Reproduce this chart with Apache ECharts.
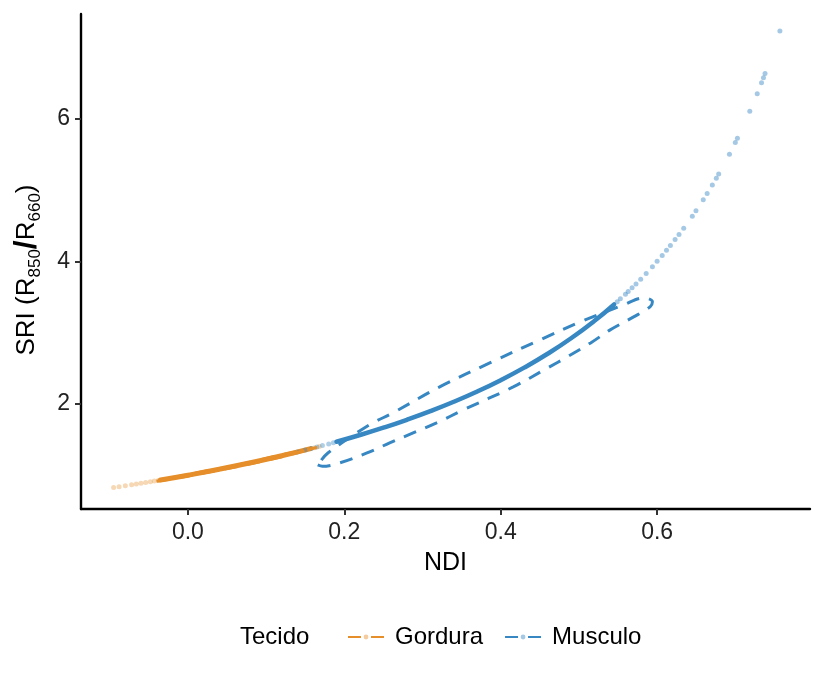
<!DOCTYPE html>
<html>
<head>
<meta charset="utf-8">
<script src="https://cdn.jsdelivr.net/npm/echarts@6/dist/echarts.min.js"></script>
<style>
html,body{margin:0;padding:0;background:#fff;}
#chart{width:826px;height:685px;}
</style>
</head>
<body>
<div id="chart"></div>
<script>
// ---- data ----
const xTicks = [0.0, 0.2, 0.4, 0.6];
const yTicks = [2, 4, 6];

// Gordura: sparse light points (low NDI end)
const gordSparseNDI = [-0.095, -0.088, -0.08, -0.072, -0.066, -0.06, -0.054, -0.048, -0.043, -0.038, 0.162, 0.168];
const gordSparseSRI = [0.8265, 0.8382, 0.8519, 0.8657, 0.8762, 0.8868, 0.8975, 0.9084, 0.9175, 0.9268, 1.3866, 1.4038];
// Gordura: dense run of overlapping points
const gordDenseNDI = [-0.035, 0.0, 0.04, 0.08, 0.12, 0.157];
const gordDenseSRI = [0.9324, 1.0, 1.0833, 1.1739, 1.2727, 1.3725];
// Gordura ellipse (very thin)
const gordEllNDI = [-0.04, 0.0, 0.06, 0.12, 0.165, 0.12, 0.06, 0.0, -0.04];
const gordEllSRI = [0.915, 0.99, 1.115, 1.26, 1.39, 1.285, 1.135, 1.01, 0.915];

// Musculo: light points overlapping Gordura
const muscLowNDI = [0.14, 0.15, 0.158, 0.165, 0.172, 0.18, 0.186];
const muscLowSRI = [1.3256, 1.3529, 1.3753, 1.3952, 1.4155, 1.439, 1.457];
// Musculo: dense run of overlapping points
const muscDenseNDI = [0.19, 0.22, 0.25, 0.28, 0.31, 0.34, 0.37, 0.40, 0.43, 0.46, 0.49, 0.52, 0.545];
const muscDenseSRI = [1.4691, 1.5641, 1.6667, 1.7778, 1.8986, 2.0303, 2.1746, 2.3333, 2.5088, 2.7037, 2.9216, 3.1667, 3.3956];
// Musculo: sparse upper points
const muscHighNDI = [0.549, 0.553, 0.5595, 0.563, 0.568, 0.573, 0.579, 0.586, 0.594, 0.600, 0.6065, 0.612, 0.617, 0.623, 0.628, 0.634, 0.645, 0.6497, 0.659, 0.664, 0.6706, 0.6757, 0.6787, 0.6925, 0.700, 0.7027, 0.7185, 0.728, 0.7335, 0.736, 0.738, 0.757];
const muscHighSRI = [3.4346, 3.4743, 3.540, 3.5767, 3.6296, 3.6838, 3.7506, 3.8309, 3.9261, 4.0, 4.0826, 4.1546, 4.2219, 4.305, 4.3763, 4.4645, 4.6338, 4.7094, 4.8651, 4.9524, 5.0717, 5.1671, 5.2247, 5.5041, 5.6667, 5.7272, 6.1048, 6.3529, 6.5047, 6.5758, 6.6336, 7.2305];
// Musculo ellipse
const muscEllNDI = [0.166, 0.172, 0.194, 0.229, 0.258, 0.288, 0.318, 0.352, 0.416, 0.460, 0.485, 0.515, 0.540, 0.570, 0.591, 0.594, 0.583, 0.557, 0.502, 0.450, 0.386, 0.322, 0.262, 0.232, 0.179, 0.166];
const muscEllSRI = [1.144, 1.125, 1.172, 1.312, 1.453, 1.593, 1.733, 1.916, 2.239, 2.505, 2.660, 2.856, 3.039, 3.221, 3.361, 3.432, 3.488, 3.389, 3.151, 2.898, 2.575, 2.239, 1.874, 1.705, 1.312, 1.144];

const ORANGE = '#E58E2A';
const BLUE = '#3787C3';
const FONT = 'Liberation Sans, Arial, sans-serif';

function pairs(xs, ys) { return xs.map((x, i) => [x, ys[i]]); }

const chart = echarts.init(document.getElementById('chart'), null, {renderer: 'canvas'});

const option = {
  backgroundColor: '#ffffff',
  animation: false,
  textStyle: {fontFamily: FONT},
  grid: {left: 81, right: 16, top: 14, bottom: 176, containLabel: false},
  xAxis: {
    type: 'value',
    min: -0.1367, max: 0.7955,
    name: 'NDI',
    nameLocation: 'middle',
    nameGap: 42,
    nameTextStyle: {fontSize: 25, color: '#000', fontFamily: FONT},
    axisLine: {show: true, onZero: false, lineStyle: {color: '#000', width: 2.4}},
    axisTick: {show: true, length: 6, lineStyle: {color: '#333', width: 2}, customValues: xTicks},
    axisLabel: {fontSize: 23, color: '#222', margin: 12, fontFamily: FONT, customValues: xTicks,
      formatter: v => v.toFixed(1)},
    splitLine: {show: false}
  },
  yAxis: {
    type: 'value',
    min: 0.526, max: 7.47,
    axisLine: {show: true, onZero: false, lineStyle: {color: '#000', width: 2.4}},
    axisTick: {show: true, length: 6, lineStyle: {color: '#333', width: 2}, customValues: yTicks},
    axisLabel: {fontSize: 23, color: '#222', margin: 11, fontFamily: FONT, customValues: yTicks},
    splitLine: {show: false}
  },
  legend: {
    data: ['Gordura', 'Musculo'],
    left: 342,
    top: 620,
    orient: 'horizontal',
    itemWidth: 36,
    itemHeight: 6,
    itemGap: 21,
    textStyle: {fontSize: 24, color: '#000', fontFamily: FONT, padding: [0, 0, 0, 6]},
    itemStyle: {opacity: 0.45}
  },
  graphic: [
    {
      type: 'text',
      left: 240,
      top: 625,
      style: {text: 'Tecido', fontSize: 24, fill: '#000', fontFamily: FONT}
    },
    {
      type: 'text',
      x: 27, y: 270,
      rotation: Math.PI / 2,
      style: {
        text: '{t|SRI (R}{s|850}{k|/}{t|R}{s|660}{t|)}',
        x: 0, y: 0, align: 'center', verticalAlign: 'middle',
        fill: '#000', fontFamily: FONT,
        rich: {
          t: {fontSize: 26, lineHeight: 34, verticalAlign: 'middle', fill: '#000', fontFamily: FONT},
          s: {fontSize: 17, lineHeight: 17, verticalAlign: 'bottom', fill: '#000', fontFamily: FONT},
          k: {fontSize: 32, lineHeight: 34, verticalAlign: 'middle', fontWeight: 'bold', fill: '#000', fontFamily: FONT}
        }
      }
    }
  ],
  series: [
    {
      name: 'Gordura', type: 'line', data: pairs(gordEllNDI, gordEllSRI), smooth: 0.4,
      symbol: 'circle', symbolSize: 5, showSymbol: false, z: 5,
      lineStyle: {color: ORANGE, width: 3, type: [13, 10]}, itemStyle: {color: ORANGE}
    },
    {
      name: 'Musculo', type: 'line', data: pairs(muscEllNDI, muscEllSRI), smooth: 0.35,
      symbol: 'circle', symbolSize: 5, showSymbol: false, z: 5,
      lineStyle: {color: BLUE, width: 3, type: [13, 10]}, itemStyle: {color: BLUE}
    },
    {
      name: 'gSparse', type: 'scatter', data: pairs(gordSparseNDI, gordSparseSRI),
      symbolSize: 5, itemStyle: {color: ORANGE, opacity: 0.35}, z: 2
    },
    {
      name: 'gDense', type: 'line', data: pairs(gordDenseNDI, gordDenseSRI), smooth: true,
      showSymbol: false, lineStyle: {color: ORANGE, width: 5, cap: 'round'}, z: 2
    },
    {
      name: 'mLow', type: 'scatter', data: pairs(muscLowNDI, muscLowSRI),
      symbolSize: 5, itemStyle: {color: BLUE, opacity: 0.4}, z: 3
    },
    {
      name: 'mDense', type: 'line', data: pairs(muscDenseNDI, muscDenseSRI), smooth: true,
      showSymbol: false, lineStyle: {color: BLUE, width: 4.5, cap: 'round'}, z: 3
    },
    {
      name: 'mHigh', type: 'scatter', data: pairs(muscHighNDI, muscHighSRI),
      symbolSize: 5, itemStyle: {color: BLUE, opacity: 0.45}, z: 3
    }
  ]
};
chart.setOption(option);
</script>
</body>
</html>
